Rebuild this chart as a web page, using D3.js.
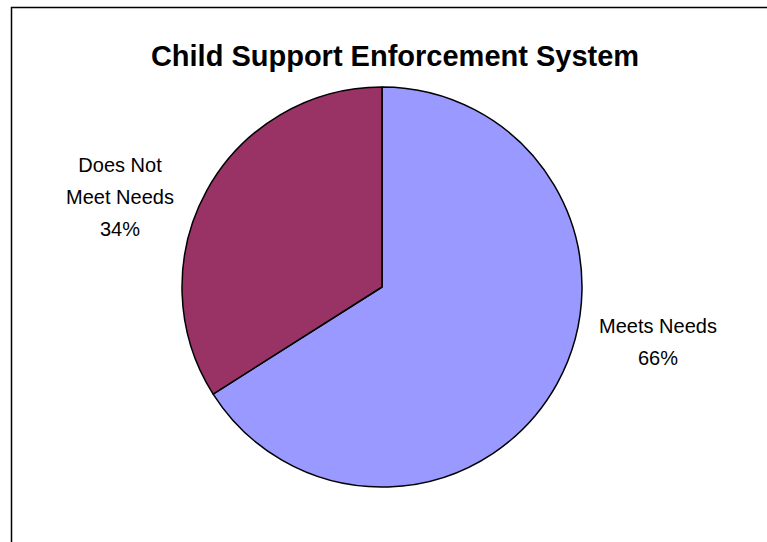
<!DOCTYPE html>
<html>
<head>
<meta charset="utf-8">
<script src="https://cdn.jsdelivr.net/npm/d3@7"></script>
<style>
  html, body { margin: 0; padding: 0; background: #fff; }
  svg { display: block; }
  text { font-family: Arial, "Liberation Sans", Helvetica, sans-serif; fill: #000; }
</style>
</head>
<body>
<svg id="chart" width="767" height="542"></svg>
<script>
// Survey result shares
const categories = ["Meets Needs", "Does Not Meet Needs"];
const values = [66, 34];
const labelLines = [["Meets Needs", "66%"], ["Does Not", "Meet Needs", "34%"]];
const colors = ["#9999FF", "#993366"];

const svg = d3.select("#chart");
const W = 767, H = 542;

// chart frame (extends past the right and bottom edges of the view)
svg.append("rect")
  .attr("x", 11.5).attr("y", 7.5)
  .attr("width", W + 40).attr("height", H + 40)
  .attr("fill", "#fff").attr("stroke", "#000").attr("stroke-width", 1.5);

svg.append("text")
  .attr("x", 395).attr("y", 66)
  .attr("text-anchor", "middle")
  .attr("font-size", 29).attr("font-weight", "bold")
  .text("Child Support Enforcement System");

const cx = 382, cy = 287, r = 200;
const pie = d3.pie().sort(null).value(d => d.value);
const arcs = pie(categories.map((c, i) => ({ name: c, value: values[i], i })));
const arc = d3.arc().innerRadius(0).outerRadius(r);

const g = svg.append("g").attr("transform", `translate(${cx},${cy})`);
g.selectAll("path").data(arcs).join("path")
  .attr("d", arc)
  .attr("fill", d => colors[d.data.i])
  .attr("stroke", "#000").attr("stroke-width", 1.5)
  .attr("stroke-linejoin", "round");

// outside labels: anchored beside the slice, on the side of its mid-angle
const labelPos = [[276, 55], [-262, -90]];
const lh = 32;
arcs.forEach(d => {
  const lines = labelLines[d.data.i];
  const [lx, ly] = labelPos[d.data.i];
  const t = g.append("text")
    .attr("text-anchor", "middle")
    .attr("font-size", 20);
  const y0 = ly - (lines.length - 1) * lh / 2;
  lines.forEach((s, k) => {
    t.append("tspan").attr("x", lx).attr("y", y0 + k * lh).attr("dy", "0.35em").text(s);
  });
});
</script>
</body>
</html>
